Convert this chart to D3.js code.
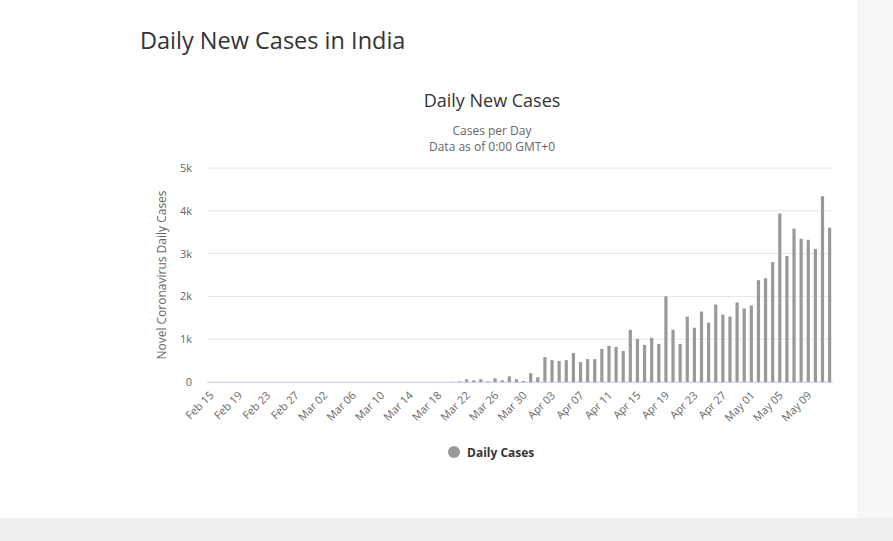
<!DOCTYPE html>
<html><head><meta charset="utf-8">
<script src="https://cdn.jsdelivr.net/npm/d3@7"></script>
<style>body{margin:0;background:#fff;font-family:"Open Sans",sans-serif;}</style>
</head><body><svg id="c" width="893" height="541"></svg>
<script>
const startDate = "2020-02-15";
const dailyCases = [
 0,0,0,0,0,0,0,0,0,0,0,0,0,0,0,
 0,0,0,0,0,0,0,0,0,0,0,0,0,0,0,0,0,0,0,5,
 16,63,39,63,16,87,39,134,63,24,205,110,
 583,512,488,512,677,465,535,535,772,843,819,724,1220,1008,866,1031,890,2000,1220,890,1528,1268,1646,1386,1811,1575,1528,1858,1717,1787,
 2378,2425,2803,3937,2945,3583,3346,3323,3110,4339,3606
];
const yTicks = [0,1000,2000,3000,4000,5000];
const fmt = d3.timeFormat("%b %d");
const parse = d3.timeParse("%Y-%m-%d");
const dates = dailyCases.map((_,i)=>d3.timeDay.offset(parse(startDate),i));
const cats = dates.map(fmt);

const svg = d3.select("#c");
svg.append("rect").attr("x",857).attr("y",0).attr("width",36).attr("height",541).attr("fill","#f7f7f7");
svg.append("rect").attr("x",0).attr("y",518).attr("width",893).attr("height",23).attr("fill","#efefef");
svg.append("text").attr("x",140).attr("y",49).attr("font-size",23.5).attr("fill","#333").text("Daily New Cases in India");
svg.append("text").attr("x",492).attr("y",107).attr("text-anchor","middle").attr("font-size",18).attr("fill","#333").text("Daily New Cases");
svg.append("text").attr("x",492).attr("y",135).attr("text-anchor","middle").attr("font-size",12).attr("fill","#666").text("Cases per Day");
svg.append("text").attr("x",492).attr("y",151).attr("text-anchor","middle").attr("font-size",12).attr("fill","#666").text("Data as of 0:00 GMT+0");

const L=207,R=833,T=168,B=382;
const x=d3.scaleBand().domain(cats).range([L,R]).paddingInner(0.55).paddingOuter(0.25);
const y=d3.scaleLinear().domain([0,5000]).range([B,T]);

svg.append("g").selectAll("line").data(yTicks).join("line")
 .attr("x1",L).attr("x2",R).attr("y1",d=>y(d)).attr("y2",d=>y(d)).attr("stroke","#e6e6e6");
svg.append("g").selectAll("text").data(yTicks).join("text")
 .attr("x",192).attr("y",d=>y(d)+4).attr("text-anchor","end").attr("font-size",11).attr("fill","#666")
 .text(d=>d===0?"0":(d/1000)+"k");
svg.append("text").attr("transform",`translate(166,${(T+B)/2}) rotate(-90)`).attr("text-anchor","middle")
 .attr("font-size",12).attr("fill","#666").text("Novel Coronavirus Daily Cases");

svg.append("g").selectAll("rect").data(dailyCases).join("rect")
 .attr("x",(d,i)=>x(cats[i])).attr("width",x.bandwidth())
 .attr("y",d=>y(d)).attr("height",d=>B-y(d)).attr("fill","#999");
svg.append("line").attr("x1",L).attr("x2",R).attr("y1",B+0.5).attr("y2",B+0.5).attr("stroke","#ccd6eb");

svg.append("g").selectAll("text").data(cats.filter((_,i)=>i%4===0)).join("text")
 .attr("transform",d=>`translate(${x(d)+x.bandwidth()/2+4},${B+14}) rotate(-45)`)
 .attr("text-anchor","end").attr("font-size",11).attr("fill","#666").text(d=>d);

svg.append("circle").attr("cx",454).attr("cy",452).attr("r",6).attr("fill","#999");
svg.append("text").attr("x",467).attr("y",457).attr("font-size",12).attr("font-weight","bold").attr("fill","#333").text("Daily Cases");
</script></body></html>
